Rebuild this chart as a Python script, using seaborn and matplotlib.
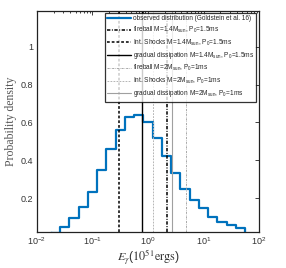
import numpy as np
import pandas as pd
import matplotlib
matplotlib.use("Agg")
import matplotlib.pyplot as plt
import seaborn as sns
from matplotlib.ticker import LogLocator, FixedLocator, NullFormatter

# histogram (log10 bin edges, density values)
log_edges = np.linspace(-1.75, 1.75, 22)
density = [0.027, 0.048, 0.096, 0.154, 0.233, 0.348, 0.46, 0.56, 0.628, 0.64,
           0.604, 0.518, 0.422, 0.331, 0.246, 0.189, 0.146, 0.101, 0.074, 0.057, 0.039]

# model predictions of E_gamma (1e51 erg)
model_labels = ["fireball M=1.4M$_{sun}$, P$_0$=1.5ms",
                "Int. Shocks M=1.4M$_{sun}$, P$_0$=1.5ms",
                "gradual dissipation M=1.4M$_{sun}$, P$_0$=1.5ms",
                "fireball M=2M$_{sun}$, P$_0$=1ms",
                "Int. Shocks M=2M$_{sun}$, P$_0$=1ms",
                "gradual dissipation M=2M$_{sun}$, P$_0$=1ms"]
model_E = [2.23, 0.30, 0.79, 4.77, 1.21, 2.74]
model_dashes = [(2.2, 1.0, 0.6, 1.0), (1.8, 1.3), (), (2.2, 1.0, 0.6, 1.0), (1.8, 1.3), ()]
model_colors = ["black", "black", "black", "#a8a8a8", "#b4b4b4", "#a0a0a0"]
model_lw = [1.1, 1.1, 1.0, 0.7, 0.7, 0.8]

sns.set_style("white")
plt.rcParams['font.family'] = ['Liberation Sans', 'DejaVu Sans']
plt.rcParams['mathtext.fontset'] = 'stix'
plt.rcParams['mathtext.default'] = 'regular'

fig = plt.figure(figsize=(2.86, 2.68), dpi=100)
ax = fig.add_axes([0.129, 0.134, 0.777, 0.825])

edges = 10 ** log_edges
df = pd.DataFrame({"E": np.concatenate([[edges[0]], edges, [edges[-1]]]),
                   "p": np.concatenate([[0], density, [density[-1]], [0]])})
sns.lineplot(data=df, x="E", y="p", drawstyle="steps-post", color="#0072BD",
             linewidth=1.6, ax=ax, label="observed distribution (Goldstein et al. 16)",
             sort=False)

for e, lab, d, c, lw in zip(model_E, model_labels, model_dashes, model_colors, model_lw):
    ln = ax.axvline(e, color=c, linewidth=lw, label=lab)
    if d:
        ln.set_dashes(d)

ax.set_xscale("log")
ax.set_xlim(1e-2, 1e2)
ax.set_ylim(0.02, 1.19)
ax.yaxis.set_major_locator(FixedLocator([0.2, 0.4, 0.6, 0.8, 1.0]))
ax.set_yticklabels(["0.2", "0.4", "0.6", "0.8", "1"])
ax.xaxis.set_major_locator(LogLocator(base=10, numticks=10))
ax.xaxis.set_minor_locator(LogLocator(base=10, subs=np.arange(2, 10), numticks=20))
ax.xaxis.set_minor_formatter(NullFormatter())
ax.tick_params(which="both", direction="in", top=True, right=True, labelsize=6.5,
               width=0.6, color="#222222", labelcolor="#333333")
ax.tick_params(which="major", length=3, pad=2.5)
ax.tick_params(which="minor", length=1.6)
for s in ax.spines.values():
    s.set_linewidth(0.9)
    s.set_color("#222222")

ax.set_xlabel(r"$\mathit{E}_{\mathit{\gamma}}(\mathrm{10^{51}ergs})$", fontsize=8.8,
              color="#333333", labelpad=0)
ax.set_ylabel("Probability density", family="Liberation Serif", fontsize=8.5,
              color="#555555", labelpad=3)

leg = ax.legend(loc="upper right", fontsize=4.7, frameon=True, fancybox=False,
                edgecolor="black", handlelength=3.6, handletextpad=0.25,
                labelspacing=0.36, borderpad=0.35, bbox_to_anchor=(0.99, 0.993),
                borderaxespad=0.1)
leg.get_frame().set_linewidth(0.9)

fig.savefig("out.png", dpi=100)
